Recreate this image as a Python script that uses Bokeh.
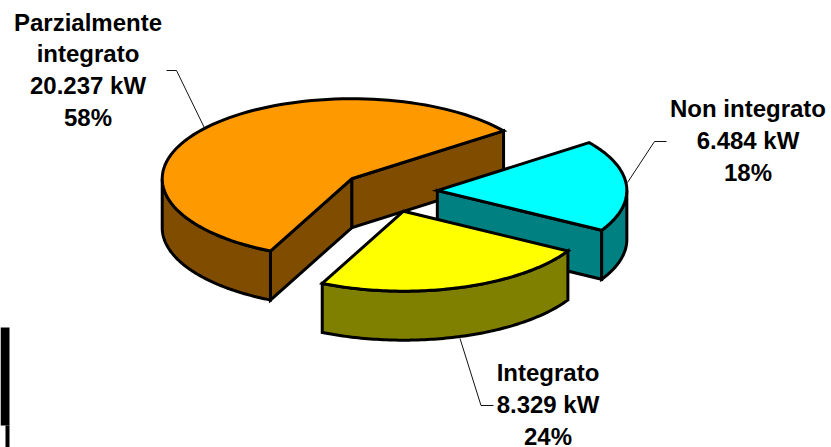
import numpy as np
from bokeh.plotting import figure
from bokeh.embed import file_html
from bokeh.resources import INLINE
from bokeh.core.properties import value

categories = ["Parzialmente integrato", "Integrato", "Non integrato"]
power_kw = [20237, 8329, 6484]
top_colors = ["#FF9900", "#FFFF00", "#00FFFF"]
side_colors = ["#804D00", "#808000", "#008080"]

# pie projection
CX, CY, RX, RY, DEPTH = 388.6, 191.2, 189.5, 80.0, 49.0
EXPLODE = 0.255
START_DEG = 244.6  # orange ends here; slices go counter-clockwise on screen

p = figure(width=831, height=447, x_range=(0, 831), y_range=(447, 0),
           output_backend="svg", toolbar_location=None, min_border=0,
           x_axis_location=None, y_axis_location=None, outline_line_color=None,
           background_fill_color="white", border_fill_color="white")
p.grid.visible = False

total = sum(power_kw)
sweeps = [v / total * 360 for v in power_kw]

def rim(ax, ay, a0, a1):
    t = np.radians(np.linspace(a0, a1, 90))
    return ax + RX * np.cos(t), ay - RY * np.sin(t)

spans = {}
a = START_DEG
for i in (1, 2, 0):
    spans[i] = (a, a + sweeps[i])
    a += sweeps[i]

LW = 3.0
style = dict(line_color="black", line_width=LW, line_join="miter")
for i in (0, 2, 1):  # painter's order: back to front
    a0, a1 = spans[i]
    mid = np.radians((a0 + a1) / 2)
    ax = CX + EXPLODE * RX * np.cos(mid)
    ay = CY - EXPLODE * RY * np.sin(mid)
    # cut faces: only those whose outward normal points at the viewer
    for ang, normal in ((a0, a0 - 90), (a1, a1 + 90)):
        if np.sin(np.radians(normal)) < 0:
            ex, ey = rim(ax, ay, ang, ang)
            xs = [ax, ex[0], ex[0], ax]
            ys = [ay, ey[0], ey[0] + DEPTH, ay + DEPTH]
            p.patch(xs, ys, fill_color=side_colors[i], **style)
    # outer wall: the part of the rim facing the viewer
    for k in (-1, 0, 1):
        lo, hi = max(a0, 180 + 360 * k), min(a1, 360 + 360 * k)
        if hi > lo:
            rx, ry = rim(ax, ay, lo, hi)
            xs = np.concatenate([rx, rx[::-1]])
            ys = np.concatenate([ry, ry[::-1] + DEPTH])
            p.patch(xs, ys, fill_color=side_colors[i], **style)
    rx, ry = rim(ax, ay, a0, a1)
    p.patch(np.r_[ax, rx], np.r_[ay, ry], fill_color=top_colors[i], **style)

# leader lines
p.line([204, 176, 166], [127.5, 70, 70], line_color="#111111", line_width=1)
p.line([627, 654, 666], [182, 141, 141], line_color="#111111", line_width=1)
p.line([459.5, 480.5, 493], [338, 405, 405], line_color="#111111", line_width=1)

# labels
def kw(v):
    return f"{v:,}".replace(",", ".") + " kW"
def pct(v):
    return f"{round(v / total * 100)}%"

label_x = [87.5, 547.5, 747.5]
label_y0 = [21.5, 372, 108]
tx, ty, tt = [], [], []
for i, c in enumerate(categories):
    words = ["Parzialmente", "integrato"] if i == 0 else [c]
    lines = words + [kw(power_kw[i]), pct(power_kw[i])]
    for j, s in enumerate(lines):
        tx.append(label_x[i]); ty.append(label_y0[i] + j * 31.9); tt.append(s)
p.text(tx, ty, text=tt, text_font=value("Liberation Sans"), text_font_style="bold",
       text_font_size="24px", text_align="center", text_baseline="middle", text_color="black")

# stray black block at the lower-left edge
p.quad(left=[0, 5], right=[9, 9], top=[327, 425], bottom=[425, 447], fill_color="black", line_color=None)

open("out.html", "w").write(file_html(p, INLINE))
